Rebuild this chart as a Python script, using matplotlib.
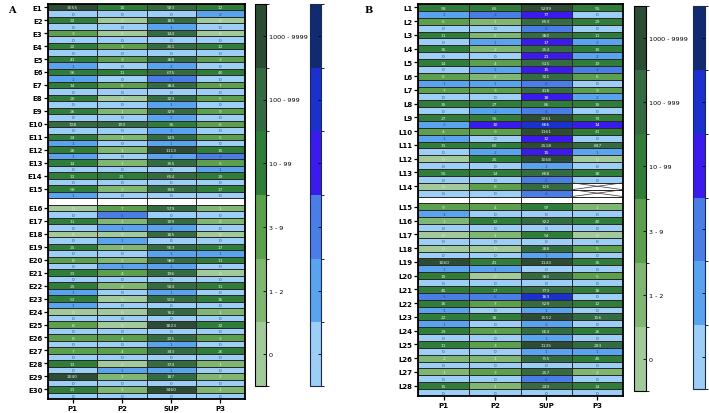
import numpy as np
import matplotlib
matplotlib.use("Agg")
import matplotlib.pyplot as plt
from matplotlib.colors import ListedColormap, BoundaryNorm
from matplotlib.cm import ScalarMappable

nan = np.nan

columns = ["P1", "P2", "SUP", "P3"]
bin_labels = ["0", "1 - 2", "3 - 9", "10 - 99", "100 - 999", "1000 - 9999"]

# panel A, one green row and one blue row per label
a_labels = ["E%d" % i for i in range(1, 31)]
a_green = [
    [3055, 10, 923, 12], [22, 0, 185, 0], [3, 0, 144, 0], [22, 3, 251, 12],
    [41, 3, 388, 3], [56, 11, 675, 40], [14, 6, 384, 7], [20, 0, 323, 5],
    [26, 1, 329, 9], [728, 193, 35, 6], [24, 1, 149, 5], [26, 1, 1113, 15],
    [14, 1, 355, 5], [12, 21, 654, 29], [59, 2, 398, 17],
    [0, 7, 579, 1], [11, 1, 109, 2], [0, 0, 185, 0], [25, 2, 553, 17],
    [8, 2, 980, 11], [31, 4, 196, 0], [25, 2, 924, 11], [57, 0, 503, 16],
    [0, 0, 762, 1], [8, 0, 1823, 32], [8, 4, 221, 3], [7, 4, 343, 26],
    [13, 0, 374, 1], [2040, 2, 187, 2], [21, 1, 3460, 1],
]
a_blue = [
    [0, 0, 0, 2], [0, 0, 1, 0], [0, 0, 0, 0], [0, 0, 0, 0],
    [1, 0, 2, 0], [2, 0, 5, 0], [0, 0, 0, 0], [0, 0, 1, 0],
    [0, 0, 1, 0], [0, 0, 1, 0], [1, 0, 1, 0], [1, 0, 2, 3],
    [0, 0, 0, 1], [0, 0, 0, 0], [1, 0, 0, 0],
    [0, 5, 0, 0], [0, 1, 2, 0], [0, 1, 0, 0], [0, 0, 1, 1],
    [0, 1, 1, 0], [0, 0, 0, 0], [1, 0, 1, 0], [1, 0, 0, 0],
    [0, 0, 0, 0], [0, 0, 0, 0], [0, 0, 1, 0], [0, 0, 0, 0],
    [0, 1, 1, 0], [0, 0, 0, 0], [0, 0, 0, 0],
]

# panel B
b_labels = ["L%d" % i for i in range(1, 29)]
b_green = [
    [58, 65, 5299, 55], [6, 1, 653, 29], [11, 2, 380, 11], [35, 2, 254, 10],
    [14, 4, 515, 19], [6, 2, 321, 6], [7, 3, 418, 9], [35, 27, 86, 35],
    [27, 55, 3261, 73], [4, 9, 1161, 41], [31, 60, 2518, 847], [0, 25, 1068, 0],
    [55, 14, 668, 18], [0, 8, 126, nan],
    [9, 4, 97, 1], [1, 12, 322, 40], [0, 1, 54, 0], [0, 0, 288, 5],
    [1060, 41, 1143, 35], [19, 0, 380, 5], [45, 17, 773, 18], [16, 7, 529, 12],
    [22, 38, 1552, 156], [29, 3, 664, 26], [11, 3, 1135, 293], [2, 1, 755, 45],
    [1, 3, 257, 2], [15, 1, 249, 14],
]
b_blue = [
    [2, 3, 77, 0], [0, 0, 8, 0], [0, 1, 17, 2], [0, 0, 21, 2],
    [0, 1, 15, 3], [1, 1, 4, 0], [0, 0, 18, 2], [0, 2, 4, 0],
    [2, 10, 666, 14], [1, 0, 12, 0], [0, 2, 15, 1], [0, 0, 2, 0],
    [0, 0, 6, 0], [0, 0, 4, nan],
    [1, 0, 0, 0], [0, 0, 0, 0], [0, 0, 0, 0], [0, 0, 1, 0],
    [1, 1, 0, 0], [0, 0, 0, 0], [5, 8, 163, 0], [1, 0, 1, 0],
    [1, 0, 2, 0], [0, 0, 1, 0], [0, 0, 1, 1], [0, 0, 0, 0],
    [0, 0, 6, 0], [0, 0, 0, 0],
]

greens = ["#a2c99a", "#7eb672", "#5c9f4c", "#2f7d38", "#346b40", "#2d4c34"]
blues = ["#9dcff6", "#5aa3ee", "#4a7de6", "#3a1aec", "#1b30cc", "#112a72"]
bounds = [-0.5, 0.5, 2.5, 9.5, 99.5, 999.5, 9999.5]
gcmap = ListedColormap(greens)
bcmap = ListedColormap(blues)
norm = BoundaryNorm(bounds, 6)


def draw_panel(ax, labels, green, blue, gap_after):
    n = 2 * len(labels) + 1
    gz = np.full((n, 4), nan)
    bz = np.full((n, 4), nan)
    rows = []
    for i in range(len(labels)):
        r = 2 * i if i < gap_after else 2 * i + 1
        gz[r] = green[i]
        bz[r + 1] = blue[i]
        rows.append(r)
    x = np.arange(5)
    y = np.arange(n + 1)
    ax.pcolormesh(x, y, np.ma.masked_invalid(gz), cmap=gcmap, norm=norm,
                  edgecolors="#2a2a2a", linewidth=0.4)
    ax.pcolormesh(x, y, np.ma.masked_invalid(bz), cmap=bcmap, norm=norm,
                  edgecolors="#2a2a2a", linewidth=0.4)
    for r in range(n):
        for c in range(4):
            if not np.isnan(gz[r, c]):
                ax.text(c + 0.5, r + 0.52, str(int(gz[r, c])), ha="center", va="center",
                        fontsize=3.2, color="#e4eedc")
            elif not np.isnan(bz[r, c]):
                v = bz[r, c]
                col = "white" if v >= 10 else "#1d4fa3"
                ax.text(c + 0.5, r + 0.52, str(int(v)), ha="center", va="center",
                        fontsize=3.2, color=col)
    # missing cells get a cross
    for i in range(len(labels)):
        r = rows[i]
        for c in range(4):
            if np.isnan(green[i][c]):
                for rr in (r, r + 1):
                    ax.plot([c, c + 1], [rr, rr + 1], color="#333333", lw=0.5)
                    ax.plot([c, c + 1], [rr + 1, rr], color="#333333", lw=0.5)
                ax.add_patch(plt.Rectangle((c, r), 1, 2, fill=False, ec="#2a2a2a", lw=0.4))
    ax.set_xlim(0, 4)
    ax.set_ylim(n, 0)
    ax.set_xticks(np.arange(4) + 0.5)
    ax.set_xticklabels(columns, fontweight="bold")
    ax.set_yticks(np.array(rows) + 0.5)
    ax.set_yticklabels(labels, fontweight="bold")
    ax.tick_params(labelsize=5, length=3, width=0.9, pad=1)
    for s in ax.spines.values():
        s.set_linewidth(1.3)


def draw_bars(fig, gpos, bpos):
    ticks = [0, 1.5, 6, 50, 500, 5000]
    cg = fig.add_axes(gpos)
    cb = fig.colorbar(ScalarMappable(norm=norm, cmap=gcmap), cax=cg)
    cb.set_ticks([0, 1.5, 6, 54.5, 549.5, 5499.5])
    cb.set_ticklabels(bin_labels)
    cb.ax.tick_params(labelsize=4.6, length=2, width=0.6, direction="in", pad=2)
    cb.outline.set_linewidth(0.8)
    cbx = fig.add_axes(bpos)
    cb2 = fig.colorbar(ScalarMappable(norm=norm, cmap=bcmap), cax=cbx)
    cb2.set_ticks([0, 1.5, 6, 54.5, 549.5, 5499.5])
    cb2.set_ticklabels([""] * 6)
    cb2.ax.tick_params(length=2, width=0.6, direction="in")
    cb2.outline.set_linewidth(0.8)
    cb2.outline.set_edgecolor("#1a2a50")


fig = plt.figure(figsize=(7.09, 4.14), dpi=100)

ax_a = fig.add_axes([48 / 709, 1 - 400 / 414, 197 / 709, 395 / 414])
draw_panel(ax_a, a_labels, a_green, a_blue, 15)
ax_b = fig.add_axes([418 / 709, 1 - 397 / 414, 205 / 709, 392 / 414])
draw_panel(ax_b, b_labels, b_green, b_blue, 14)

draw_bars(fig, [255 / 709, 1 - 387 / 414, 11 / 709, 382 / 414],
          [310 / 709, 1 - 387 / 414, 11 / 709, 382 / 414])
draw_bars(fig, [634 / 709, 1 - 392 / 414, 12 / 709, 385 / 414],
          [693 / 709, 1 - 390 / 414, 12 / 709, 383 / 414])

fig.text(8 / 709, 1 - 13 / 414, "A", fontsize=7, fontweight="bold", family="serif")
fig.text(365 / 709, 1 - 13 / 414, "B", fontsize=7, fontweight="bold", family="serif")

fig.savefig("out.png", dpi=100)
